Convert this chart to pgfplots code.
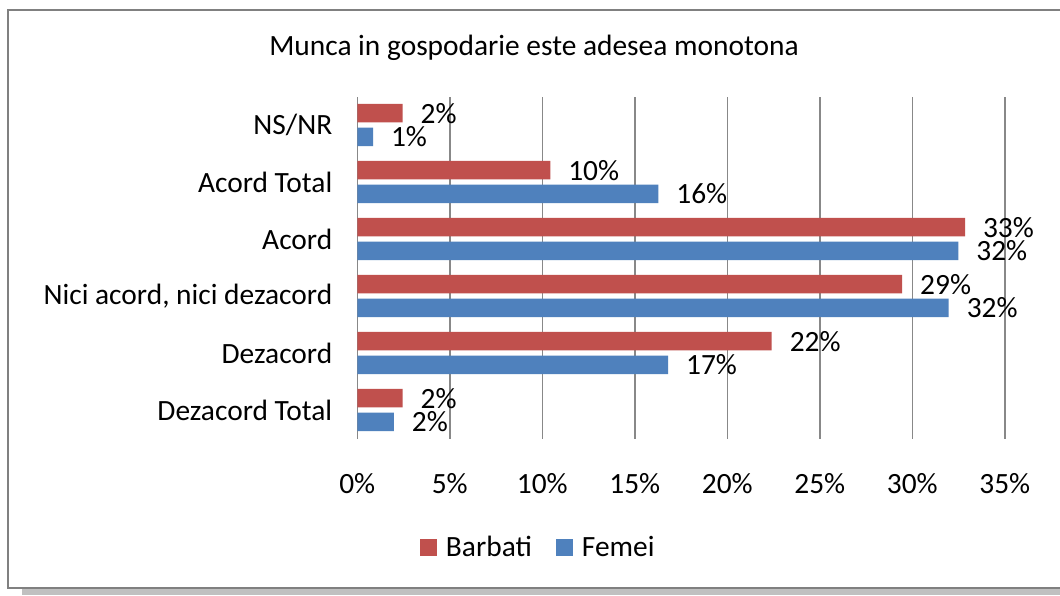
\documentclass[border=0pt]{standalone}
\usepackage{fontspec}
\setmainfont{Carlito}
\usepackage{pgfplots}
\pgfplotsset{compat=1.18}
\definecolor{barbati}{HTML}{C0504D}
\definecolor{femei}{HTML}{4F81BD}
\definecolor{gridgray}{HTML}{888888}
\definecolor{framegray}{HTML}{808080}
\definecolor{shadowgray}{HTML}{C0C0C0}

\begin{document}
\begin{tikzpicture}
% 1 px of the reference = 0.5pt
\useasboundingbox (0,0) rectangle (530pt,297.5pt);
\clip (0,0) rectangle (530pt,297.5pt);
\fill[white] (0,0) rectangle (530pt,297.5pt);
\fill[shadowgray] (11pt,0pt) rectangle (530pt,4pt);
\draw[framegray,line width=1pt] (4pt,3.6pt) rectangle (540pt,292.5pt);
\node[font=\fontsize{14.7}{16}\selectfont] at (267pt,273.5pt) {Munca in gospodarie este adesea monotona};

\begin{axis}[
  at={(178.65pt,78.25pt)},
  anchor=south west,
  scale only axis,
  width=323.75pt,
  height=171pt,
  xbar,
  xmin=0, xmax=35,
  ymin=-0.5, ymax=5.5,
  xtick={0,5,...,35},
  xticklabel={\pgfmathprintnumber{\tick}\%},
  ytick={0,1,2,3,4,5},
  yticklabels={Dezacord Total,Dezacord,{Nici acord, nici dezacord},Acord,Acord Total,NS/NR},
  major tick length=0pt,
  axis line style={draw=none},
  xmajorgrids,
  grid style={gridgray,line width=0.7pt},
  tick label style={font=\fontsize{14.7}{16}\selectfont,black},
  /pgf/number format/assume math mode=true,
  xticklabel style={yshift=-14pt},
  yticklabel style={xshift=-9pt},
  bar width=9.25pt,
  nodes near coords={\pgfmathprintnumber[fixed,precision=0]{\pgfplotspointmeta}\%},
  point meta=x,
  every node near coord/.append style={font=\fontsize{14.7}{16}\selectfont,black,xshift=5.5pt},
  legend columns=2,
  legend style={at={(0.281,-0.32)},anchor=center,draw=none,font=\fontsize{14.7}{16}\selectfont,
    /tikz/every odd column/.append style={column sep=2.5pt},
    /tikz/every even column/.append style={column sep=10pt}},
  legend image code/.code={\fill[#1] (0pt,-4.25pt) rectangle (8.5pt,4.25pt);},
]
\addplot[fill=barbati,draw=none,bar shift=5.9pt]
  coordinates {(2.45,5) (10.43,4) (32.85,3) (29.45,2) (22.4,1) (2.45,0)};
\addlegendentry{Barbati}
\addplot[fill=femei,draw=none,bar shift=-5.9pt]
  coordinates {(0.85,5) (16.27,4) (32.49,3) (31.97,2) (16.8,1) (1.98,0)};
\addlegendentry{Femei}
\end{axis}
\end{tikzpicture}
\end{document}
